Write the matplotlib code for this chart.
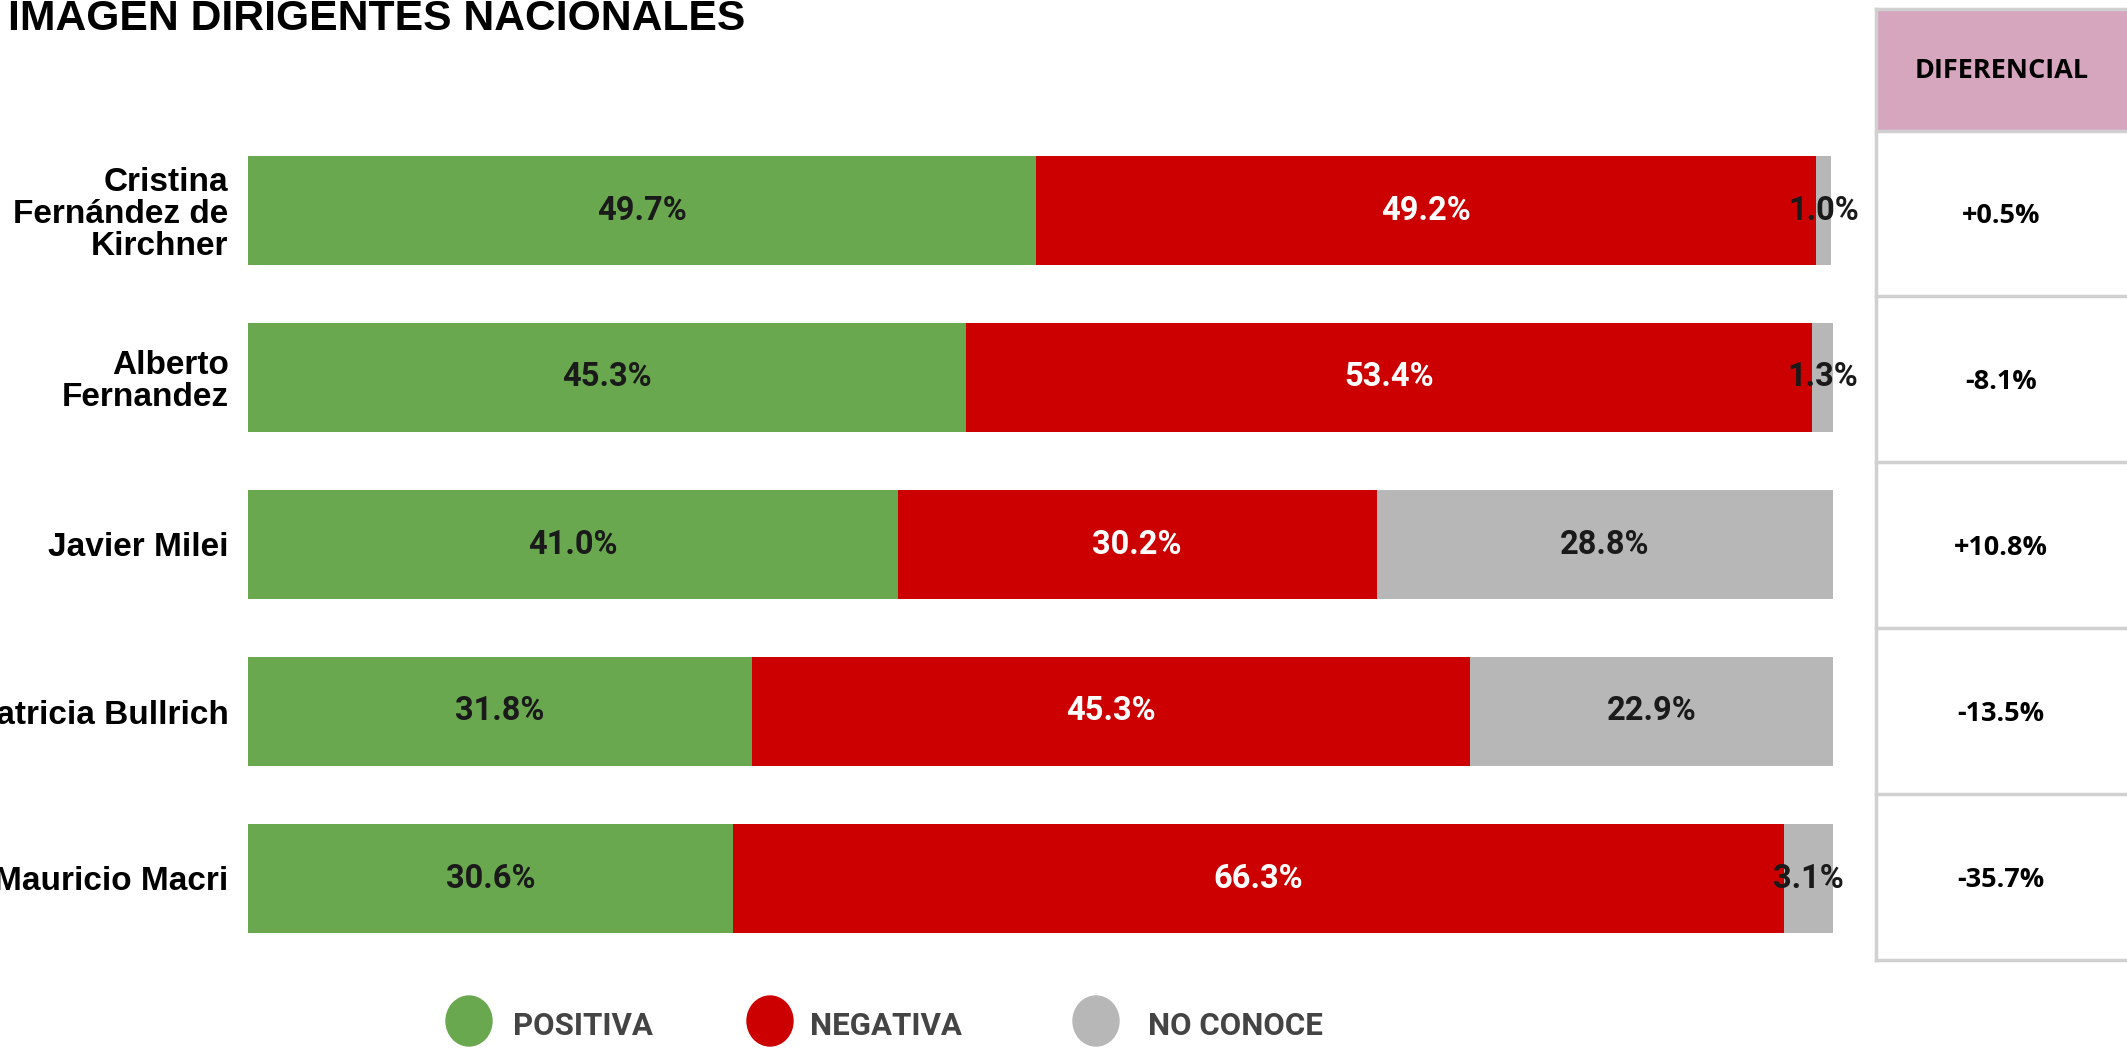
import matplotlib.pyplot as plt
from matplotlib.patches import Ellipse

# Datos
dirigentes = ["Cristina\nFernández de\nKirchner", "Alberto\nFernandez", "Javier Milei",
              "Patricia Bullrich", "Mauricio Macri"]
positiva = [49.7, 45.3, 41.0, 31.8, 30.6]
negativa = [49.2, 53.4, 30.2, 45.3, 66.3]
no_conoce = [1.0, 1.3, 28.8, 22.9, 3.1]
diferencial = ["+0.5%", "-8.1%", "+10.8%", "-13.5%", "-35.7%"]

series = ["POSITIVA", "NEGATIVA", "NO CONOCE"]
colores = ["#6AA84F", "#CC0000", "#B7B7B7"]
color_txt = ["#1a1a1a", "white", "#1a1a1a"]

W, H = 2127, 1056
fig = plt.figure(figsize=(W / 100, H / 100), dpi=100)

# Barras
ax = fig.add_axes([248 / W, 1 - 962 / H, (1833 - 248) / W, (962 - 127) / H])
y = list(range(len(dirigentes)))
left = [0] * len(dirigentes)
for vals, col, tc in zip([positiva, negativa, no_conoce], colores, color_txt):
    bars = ax.barh(y, vals, left=left, height=0.65, color=col)
    for b, v in zip(bars, vals):
        ax.text(b.get_x() + b.get_width() / 2, b.get_y() + b.get_height() / 2,
                f"{v:.1f}%", ha="center", va="center", color=tc,
                fontsize=23.5, fontweight="bold", family="Roboto")
    left = [l + v for l, v in zip(left, vals)]

ax.set_xlim(0, 100)
ax.set_ylim(4.5, -0.5)
ax.set_yticks(y)
ax.set_yticklabels(dirigentes, fontsize=24, fontweight="bold", family="Liberation Sans",
                   linespacing=1.05)
ax.tick_params(axis="y", length=0, pad=14)
ax.set_xticks([])
for s in ax.spines.values():
    s.set_visible(False)

# Titulo
fig.text(8 / W, 1 - 30 / H, "IMAGEN DIRIGENTES NACIONALES", fontsize=30.7, fontweight="bold",
         family="Liberation Sans", ha="left", va="baseline")

# Tabla diferencial
tx = fig.add_axes([1876 / W, 1 - 960 / H, (W - 1876) / W + 0.01, (960 - 9.5) / H])
tx.set_xlim(0, 1)
tx.set_ylim(4.5, -1.23)
tx.axis("off")
tx.fill_between([0, 1.1], -1.23, -0.5, color="#D5A6BD")
gris = "#D0D0D0"
for yy in [-1.23, -0.5, 0.5, 1.5, 2.5, 3.5, 4.5]:
    tx.plot([0, 1.1], [yy, yy], color=gris, lw=2.5, clip_on=False)
tx.plot([0, 0], [-1.23, 4.5], color=gris, lw=2.5, clip_on=False)
tx.text(0.46, -0.86, "DIFERENCIAL", ha="center", va="center", fontsize=19.5,
        fontweight="bold", family="Open Sans")
for i, d in enumerate(diferencial):
    tx.text(0.46, i + 0.015, d, ha="center", va="center", fontsize=19.5,
            fontweight="bold", family="Open Sans")

# Leyenda
lx = [469, 770, 1096]
tx_l = [513, 810, 1148]
for cx, tl, lab, col in zip(lx, tx_l, series, colores):
    fig.patches.append(Ellipse((cx / W, 1 - 1021 / H), 46 / W, 50 / H,
                               transform=fig.transFigure, color=col))
    fig.text(tl / W, 1 - 1026 / H, lab, ha="left", va="center", fontsize=22.5,
             fontweight="bold", family="Roboto", color="#444444")

fig.savefig("out.png", dpi=100)
